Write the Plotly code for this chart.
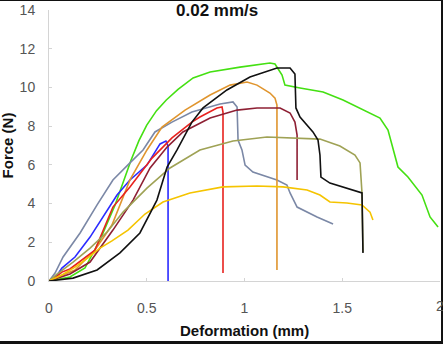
import plotly.graph_objects as go

# Data (Deformation in mm, Force in N)
green_x = [0, 0.107, 0.184, 0.261, 0.338, 0.380, 0.420, 0.460, 0.500, 0.550, 0.600, 0.660, 0.737, 0.824, 0.977, 1.130, 1.156, 1.192, 1.207, 1.284, 1.402, 1.504, 1.693, 1.734, 1.785, 1.836, 1.908, 1.949, 1.990]
green_y = [0, 0.21, 0.67, 2.12, 3.93, 5.10, 6.25, 7.25, 8.05, 8.80, 9.35, 9.90, 10.49, 10.80, 11.05, 11.26, 11.21, 10.64, 10.12, 9.97, 9.76, 9.35, 8.42, 7.80, 5.89, 5.37, 4.44, 3.31, 2.79]

gray_x = [0, 0.031, 0.072, 0.159, 0.246, 0.327, 0.414, 0.481, 0.542, 0.629, 0.731, 0.875, 0.941, 0.962, 0.967, 0.987, 1.003, 1.043, 1.166, 1.217, 1.233, 1.269, 1.371, 1.453]
gray_y = [0, 0.41, 1.24, 2.48, 3.93, 5.22, 6.10, 6.77, 7.70, 8.21, 8.73, 9.14, 9.25, 8.99, 7.28, 6.77, 5.99, 5.63, 5.22, 4.96, 4.55, 3.82, 3.31, 2.94]

blue_x = [0, 0.031, 0.066, 0.133, 0.210, 0.261, 0.348, 0.414, 0.501, 0.568, 0.598, 0.609, 0.609]
blue_y = [0, 0.15, 0.67, 1.24, 2.27, 3.05, 4.44, 5.22, 5.99, 7.08, 7.23, 6.97, 0]

orange_x = [0, 0.031, 0.133, 0.235, 0.322, 0.414, 0.501, 0.578, 0.696, 0.824, 0.926, 1.013, 1.064, 1.130, 1.156, 1.166, 1.166]
orange_y = [0, 0.15, 0.57, 1.60, 2.89, 5.22, 6.77, 7.95, 8.83, 9.61, 10.12, 10.28, 10.12, 9.71, 9.45, 9.09, 0.57]

red_x = [0, 0.015, 0.066, 0.107, 0.148, 0.235, 0.327, 0.414, 0.527, 0.629, 0.731, 0.772, 0.859, 0.885, 0.890, 0.890]
red_y = [0, 0.05, 0.46, 0.62, 0.93, 1.60, 3.82, 4.86, 6.35, 7.39, 8.21, 8.47, 8.94, 8.99, 8.73, 0.41]

maroon_x = [0, 0.107, 0.210, 0.327, 0.430, 0.517, 0.604, 0.685, 0.824, 0.962, 1.064, 1.182, 1.233, 1.258, 1.269, 1.269]
maroon_y = [0, 0.36, 0.98, 2.63, 4.18, 5.84, 6.92, 7.70, 8.42, 8.83, 8.94, 8.94, 8.68, 8.21, 7.54, 5.22]

olive_x = [0, 0.041, 0.123, 0.210, 0.297, 0.379, 0.501, 0.619, 0.772, 0.941, 1.115, 1.284, 1.386, 1.488, 1.565, 1.591, 1.601, 1.606]
olive_y = [0, 0.36, 0.98, 1.70, 2.53, 3.56, 4.80, 5.84, 6.77, 7.23, 7.44, 7.39, 7.33, 6.97, 6.51, 6.10, 4.55, 1.50]

yellow_x = [0, 0.066, 0.133, 0.199, 0.261, 0.322, 0.404, 0.491, 0.583, 0.721, 0.890, 1.064, 1.197, 1.320, 1.386, 1.437, 1.524, 1.601, 1.642, 1.657]
yellow_y = [0, 0.31, 0.72, 1.19, 1.70, 2.07, 2.63, 3.46, 4.08, 4.55, 4.86, 4.91, 4.86, 4.70, 4.44, 4.08, 4.03, 3.93, 3.56, 3.15]

black_x = [0, 0.123, 0.246, 0.363, 0.465, 0.552, 0.604, 0.655, 0.731, 0.788, 0.910, 1.028, 1.166, 1.233, 1.258, 1.263, 1.284, 1.350, 1.376, 1.386, 1.391, 1.437, 1.601, 1.606]
black_y = [0, 0.15, 0.57, 1.45, 2.48, 4.18, 5.89, 6.77, 8.21, 8.94, 9.87, 10.54, 11.00, 11.00, 10.69, 8.94, 8.47, 7.70, 7.28, 6.51, 5.37, 5.06, 4.55, 1.45]

x_ticks = [0, 0.5, 1, 1.5, 2]
x_tick_labels = ["0", "0.5", "1", "1.5", "2"]
y_ticks = [0, 2, 4, 6, 8, 10, 12, 14]

series = [
    (green_x, green_y, "#44e012"),
    (gray_x, gray_y, "#7b88a6"),
    (blue_x, blue_y, "#2b2bff"),
    (orange_x, orange_y, "#e0952e"),
    (red_x, red_y, "#e8221e"),
    (maroon_x, maroon_y, "#8e2034"),
    (olive_x, olive_y, "#9fa255"),
    (yellow_x, yellow_y, "#f5c400"),
    (black_x, black_y, "#111111"),
]

fig = go.Figure()
for xs, ys, c in series:
    fig.add_trace(go.Scatter(x=xs, y=ys, mode="lines",
                             line=dict(color=c, width=1.6),
                             showlegend=False, hoverinfo="skip"))

FONT = "Liberation Sans, Arial, sans-serif"
axis_font = dict(family=FONT, size=14, color="#555555")

fig.update_layout(
    width=443, height=344,
    margin=dict(l=49, r=3, t=10, b=63),
    paper_bgcolor="white", plot_bgcolor="white",
    xaxis=dict(range=[0, 2], tickvals=x_ticks, ticktext=x_tick_labels,
               showgrid=False, zeroline=False, showline=True,
               linecolor="#d4d4d4", linewidth=1,
               ticks="inside", ticklen=3, tickcolor="#d4d4d4",
               tickfont=axis_font, ticklabelstandoff=14),
    yaxis=dict(range=[0, 14], tickvals=y_ticks,
               showgrid=False, zeroline=False, showline=True,
               linecolor="#d4d4d4", linewidth=1,
               ticks="inside", ticklen=3, tickcolor="#d4d4d4",
               tickfont=axis_font, ticklabelstandoff=10),
    annotations=[
        dict(text="<b>0.02 mm/s</b>", xref="paper", yref="paper",
             x=0.43, y=1.0, xanchor="center", yanchor="middle", showarrow=False,
             font=dict(family=FONT, size=17, color="#111111")),
        dict(text="<b>Deformation (mm)</b>", xref="paper", yref="paper",
             x=0.5, y=-0.181, xanchor="center", yanchor="middle", showarrow=False,
             font=dict(family=FONT, size=15, color="#111111")),
        dict(text="<b>Force (N)</b>", xref="paper", yref="paper",
             x=-0.105, y=0.5, xanchor="center", yanchor="middle", showarrow=False,
             textangle=-90,
             font=dict(family=FONT, size=15, color="#111111")),
        dict(text=x_tick_labels[-1], xref="x", yref="paper",
             x=x_ticks[-1], y=-0.092, xanchor="center", yanchor="middle",
             showarrow=False, font=axis_font),
    ],
    shapes=[
        dict(type="rect", xref="paper", yref="paper", x0=1.0026, x1=1.0077,
             y0=-0.233, y1=1.037, fillcolor="#111111", line=dict(width=0),
             layer="above"),
        dict(type="rect", xref="paper", yref="paper", x0=-0.126, x1=1.0077,
             y0=-0.233, y1=-0.2214, fillcolor="#111111", line=dict(width=0)),
        dict(type="rect", xref="paper", yref="paper", x0=-0.126, x1=1.0077,
             y0=1.0332, y1=1.037, fillcolor="#111111", line=dict(width=0)),
    ],
)

fig.write_html("out.html")
